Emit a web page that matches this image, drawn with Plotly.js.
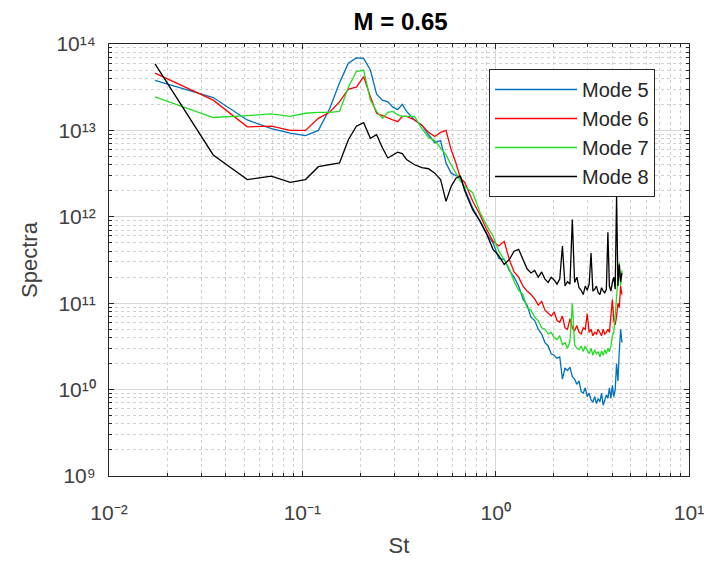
<!DOCTYPE html>
<html>
<head>
<meta charset="utf-8">
<script src="https://cdn.plot.ly/plotly-3.0.1.min.js"></script>
<style>html,body{margin:0;padding:0;background:#fff;}#chart{width:704px;height:563px;}</style>
</head>
<body>
<div id="chart"></div>
<script>
// Strouhal number (x)
const St = [
  0.0173, 0.0346, 0.0519, 0.0692, 0.0865, 0.1038, 0.1211, 0.1384, 0.1557, 0.173,
  0.1903, 0.2076, 0.2249, 0.2422, 0.2595, 0.2768, 0.2941, 0.3114, 0.3287, 0.346,
  0.3806, 0.4152, 0.4498, 0.4844, 0.519, 0.5536, 0.5882, 0.6228, 0.6574, 0.692,
  0.7612, 0.8304, 0.8996, 0.9688, 1.038, 1.1072, 1.1764, 1.2456, 1.3148, 1.384,
  1.4532, 1.5224, 1.5916, 1.6608, 1.73, 1.7992, 1.8684, 1.9376, 2.0068, 2.076,
  2.1452, 2.2144, 2.2836, 2.3528, 2.422, 2.4912, 2.5604, 2.6296, 2.6988, 2.768,
  2.8372, 2.9064, 2.9756, 3.0448, 3.114, 3.1832, 3.2524, 3.3216, 3.3908, 3.46,
  3.5292, 3.5984, 3.6676, 3.7368, 3.806, 3.8752, 3.9444, 4.0136, 4.0828, 4.152,
  4.2212, 4.2904, 4.3596, 4.4288, 4.498
];
const mode5 = [
  3.8e13, 2.4e13, 1.32e13, 1.05e13, 9.3e12, 8.7e12, 1.0e13, 1.78e13, 3.55e13, 6.0e13,
  6.9e13, 6.8e13, 5.0e13, 2.63e13, 2.24e13, 2.14e13, 1.86e13, 1.74e13, 2.0e13, 1.66e13,
  1.32e13, 1.15e13, 8.9e12, 7.2e12, 7.6e12, 4.2e12, 3.2e12, 3.0e12, 2.9e12, 2.1e12,
  1.26e12, 8.9e11, 6.3e11, 5.0e11, 3.3e11, 3.2e11, 2.4e11, 2.0e11, 1.58e11, 1.12e11,
  9.5e10, 6.9e10, 6.3e10, 5.0e10, 4.4e10, 3.5e10, 3.2e10, 2.6e10, 2.5e10, 2.3e10,
  2.4e10, 1.32e10, 1.78e10, 1.66e10, 1.82e10, 1.41e10, 1.32e10, 1.15e10, 1.26e10, 9.5e9,
  9.1e9, 1.05e10, 8.3e9, 9.1e9, 7.6e9, 7.2e9, 8.3e9, 6.9e9, 7.9e9, 7.2e9,
  9.1e9, 6.6e9, 7.6e9, 8.7e9, 7.9e9, 1.05e10, 7.9e9, 1.12e10, 8.3e9, 1.0e10,
  2.0e10, 1.26e10, 2.8e10, 5.0e10, 3.5e10
];
const mode6 = [
  4.6e13, 2.24e13, 1.1e13, 1.12e13, 1.0e13, 1.0e13, 1.38e13, 1.62e13, 2.14e13, 3.0e13,
  3.16e13, 4.2e13, 2.45e13, 1.58e13, 1.48e13, 1.41e13, 1.32e13, 1.26e13, 1.45e13, 1.45e13,
  1.32e13, 1.15e13, 9.5e12, 8.5e12, 9.5e12, 1.0e13, 6.0e12, 4.2e12, 2.8e12, 2.5e12,
  1.51e12, 1.05e12, 7.1e11, 5.2e11, 4.6e11, 5.2e11, 3.2e11, 2.3e11, 2.0e11, 1.58e11,
  1.38e11, 1.26e11, 1.12e11, 9.5e10, 1.05e11, 8.3e10, 7.6e10, 7.1e10, 7.9e10, 6.3e10,
  6.0e10, 7.1e10, 5.2e10, 5.0e10, 6.6e10, 5.2e10, 4.8e10, 5.5e10, 4.6e10, 4.4e10,
  5.2e10, 5.0e10, 7.6e10, 4.6e10, 5.0e10, 4.2e10, 4.6e10, 4.4e10, 5.0e10, 4.6e10,
  4.2e10, 5.0e10, 4.4e10, 4.6e10, 5.0e10, 4.6e10, 7.9e10, 1.1e11, 6.3e10, 5.6e10,
  7.1e10, 1.0e11, 8.9e10, 1.58e11, 1.26e11
];
const mode7 = [
  2.45e13, 1.41e13, 1.48e13, 1.55e13, 1.45e13, 1.58e13, 1.62e13, 1.62e13, 1.66e13, 3.16e13,
  4.8e13, 5.0e13, 2.24e13, 1.66e13, 1.38e13, 1.62e13, 1.66e13, 1.51e13, 1.45e13, 1.45e13,
  1.45e13, 1.05e13, 8.3e12, 7.6e12, 6.3e12, 5.2e12, 4.0e12, 3.2e12, 2.6e12, 2.24e12,
  1.9e12, 1.12e12, 7.9e11, 6.0e11, 4.0e11, 3.2e11, 2.5e11, 1.78e11, 1.41e11, 1.26e11,
  8.9e10, 8.3e10, 6.9e10, 6.3e10, 5.2e10, 5.0e10, 4.4e10, 4.6e10, 4.0e10, 3.8e10,
  4.2e10, 3.3e10, 3.5e10, 3.0e10, 3.6e10, 1.0e11, 3.3e10, 3.0e10, 2.9e10, 3.2e10,
  2.75e10, 3.2e10, 2.9e10, 2.6e10, 3.0e10, 2.5e10, 2.9e10, 2.6e10, 2.75e10, 2.4e10,
  2.8e10, 2.5e10, 2.9e10, 2.6e10, 3.0e10, 2.75e10, 3.2e10, 4.2e10, 4.6e10, 7.9e10,
  1.26e11, 2.0e11, 2.95e11, 1.58e11, 2.4e11
];
const mode8 = [
  5.9e13, 5.2e12, 2.7e12, 2.95e12, 2.5e12, 2.7e12, 3.8e12, 4.0e12, 4.2e12, 7.8e12,
  1.12e13, 1.23e13, 8.1e12, 8.9e12, 6.3e12, 4.8e12, 5.2e12, 5.6e12, 5.4e12, 4.6e12,
  4.0e12, 3.7e12, 3.6e12, 3.2e12, 2.7e12, 1.51e12, 2.24e12, 2.8e12, 2.95e12, 2.0e12,
  1.2e12, 8.9e11, 6.3e11, 4.2e11, 3.55e11, 2.8e11, 3.2e11, 4.0e11, 4.2e11, 3.2e11,
  2.5e11, 2.24e11, 2.4e11, 2.0e11, 2.3e11, 1.9e11, 1.74e11, 2.0e11, 1.86e11, 1.66e11,
  1.9e11, 4.6e11, 1.58e11, 1.78e11, 1.66e11, 9.3e11, 1.74e11, 2.0e11, 1.51e11, 1.41e11,
  1.26e11, 1.58e11, 1.41e11, 1.66e11, 3.8e11, 1.38e11, 1.45e11, 1.58e11, 1.32e11, 1.26e11,
  1.51e11, 1.38e11, 1.32e11, 1.45e11, 6.6e11, 1.58e11, 1.38e11, 1.74e11, 2.0e11, 1.45e11,
  1.78e12, 1.58e11, 2.8e11, 1.78e11, 2.24e11
];
const seriesNames = ['Mode 5', 'Mode 6', 'Mode 7', 'Mode 8'];
const seriesColors = ['#0072BD', '#FF0000', '#22DD22', '#000000'];
const xTickVals = [0.01, 0.1, 1, 10];
const xTickText = ['10\u207B\u00B2', '10\u207B\u00B9', '10\u2070', '10\u00B9'];
const yTickVals = [1e9, 1e10, 1e11, 1e12, 1e13, 1e14];
const yTickText = ['10\u2079', '10\u00B9\u2070', '10\u00B9\u00B9', '10\u00B9\u00B2', '10\u00B9\u00B3', '10\u00B9\u2074'];

const ys = [mode5, mode6, mode7, mode8];
const traces = ys.map((y, i) => ({
  type: 'scatter', mode: 'lines', x: St, y: y,
  name: seriesNames[i], legendgroup: 'g' + i,
  line: {color: seriesColors[i], width: 1.3}
}));

const FONT = 'Liberation Sans, Arial, Helvetica, sans-serif';
const axisCommon = {
  type: 'log',
  showline: true, linecolor: '#262626', linewidth: 1, mirror: 'ticks',
  ticks: 'inside', ticklen: 5, tickcolor: '#262626',
  showgrid: true, gridcolor: '#d6d6d6', gridwidth: 1,
  zeroline: false,
  tickfont: {family: FONT, size: 21, color: '#404040'},
  ticklabeloverflow: 'allow',
  minor: {dtick: 'D1', ticks: 'inside', ticklen: 3, tickcolor: '#262626',
          showgrid: true, gridcolor: '#d0d0d0', griddash: 'dot', gridwidth: 1},
  automargin: false
};

const layout = {
  width: 704, height: 563,
  margin: {l: 109, r: 15, t: 44, b: 87},
  paper_bgcolor: '#ffffff', plot_bgcolor: '#ffffff',
  font: {family: FONT, color: '#262626'},
  title: {text: '<b>M = 0.65</b>', font: {family: FONT, size: 24, color: '#000'},
          x: 0.569, xanchor: 'center', xref: 'container', y: 0.962, yanchor: 'middle', yref: 'container'},
  xaxis: Object.assign({}, axisCommon, {
    range: [-2, 1], tickmode: 'array', tickvals: xTickVals, ticktext: xTickText,
    ticklabelstandoff: 18,
    title: {text: 'St', font: {family: FONT, size: 22, color: '#404040'}, standoff: 14}
  }),
  yaxis: Object.assign({}, axisCommon, {
    range: [9, 14], tickmode: 'array', tickvals: yTickVals, ticktext: yTickText,
    ticklabelstandoff: 8,
    title: {text: 'Spectra', font: {family: FONT, size: 22, color: '#404040'}, standoff: 12}
  }),
  showlegend: true,
  legend: {
    x: (489 - 109) / 580, y: (476 - 69) / 432, xanchor: 'left', yanchor: 'top',
    bgcolor: '#ffffff', bordercolor: '#262626', borderwidth: 1,
    font: {family: FONT, size: 20, color: '#262626'},
    tracegroupgap: 9, itemwidth: 82, traceorder: 'normal'
  }
};

Plotly.newPlot('chart', traces, layout, {displayModeBar: false, staticPlot: true});
</script>
</body>
</html>
